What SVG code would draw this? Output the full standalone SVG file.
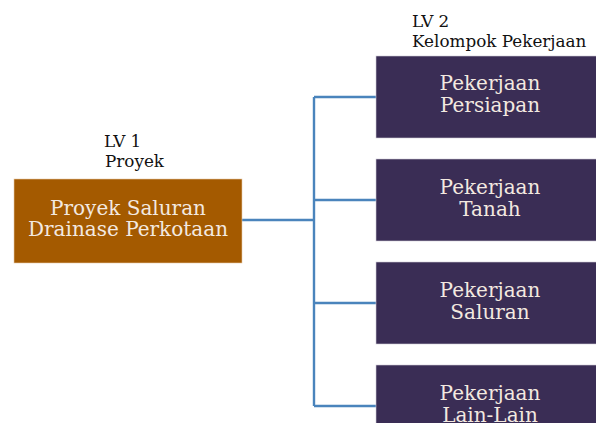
<svg xmlns="http://www.w3.org/2000/svg" width="596" height="423" viewBox="0 0 596 423">
<style>
.lbl{font-family:"DejaVu Serif",serif;font-size:16.8px;fill:#111}
.nt{font-family:"DejaVu Serif",serif;font-size:20px;fill:#f3e9e0;text-anchor:middle}
.l1{fill:#a45a00;stroke:#e8c9a8;stroke-width:0.6}
.l2{fill:#3a2d55;stroke:#d0cbd8;stroke-width:0.6}
.c{fill:none;stroke:#4a84bc;stroke-width:2.4}
</style>
<rect width="596" height="423" fill="#fff"/>
<text class="lbl" x="104" y="147">LV 1</text>
<text class="lbl" x="105" y="167">Proyek</text>
<text class="lbl" x="412" y="27">LV 2</text>
<text class="lbl" x="412" y="47">Kelompok Pekerjaan</text>
<g id="connectors">
<path class="c" d="M242 220H314M314 97V406M314 97H376M314 200H376M314 303H376M314 406H376"/>
</g>
<g id="n0"><rect class="l1" x="14" y="179" width="228" height="84"/>
<text class="nt" x="128" y="215">Proyek Saluran</text><text class="nt" x="128" y="236">Drainase Perkotaan</text></g>
<g id="n1"><rect class="l2" x="376" y="56" width="228" height="82"/>
<text class="nt" x="490" y="90">Pekerjaan</text><text class="nt" x="490" y="112">Persiapan</text></g>
<g id="n2"><rect class="l2" x="376" y="159" width="228" height="82"/>
<text class="nt" x="490" y="194">Pekerjaan</text><text class="nt" x="490" y="216">Tanah</text></g>
<g id="n3"><rect class="l2" x="376" y="262" width="228" height="82"/>
<text class="nt" x="490" y="297">Pekerjaan</text><text class="nt" x="490" y="319">Saluran</text></g>
<g id="n4"><rect class="l2" x="376" y="365" width="228" height="82"/>
<text class="nt" x="490" y="400">Pekerjaan</text><text class="nt" x="490" y="422">Lain-Lain</text></g>
</svg>
